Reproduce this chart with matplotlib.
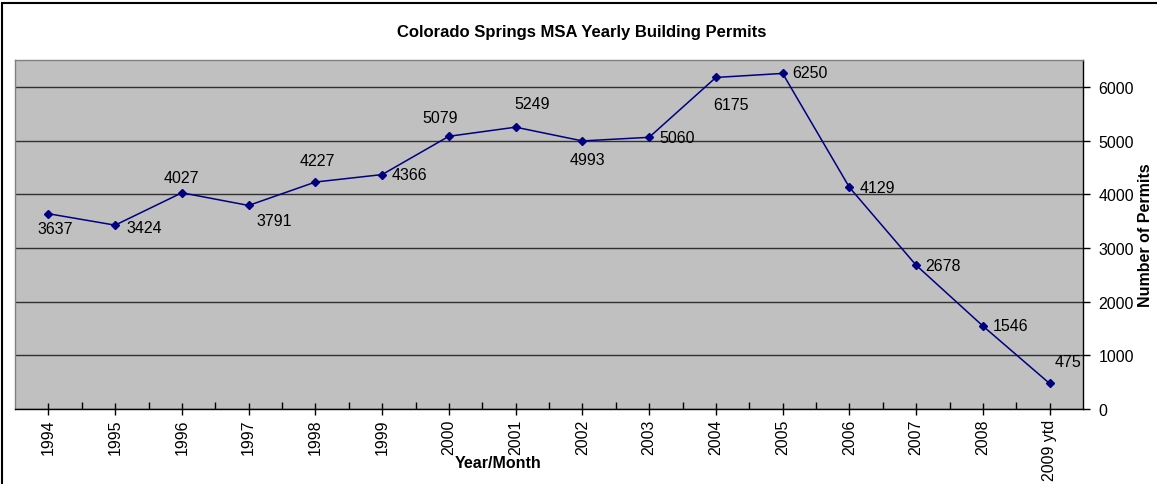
import numpy as np
import matplotlib.pyplot as plt
from matplotlib.patches import Rectangle

plt.rcParams['font.family'] = ['Liberation Sans', 'DejaVu Sans']

# donnees
annees = ['1994', '1995', '1996', '1997', '1998', '1999', '2000', '2001',
          '2002', '2003', '2004', '2005', '2006', '2007', '2008', '2009 ytd']
permis = [3637, 3424, 4027, 3791, 4227, 4366, 5079, 5249,
          4993, 5060, 6175, 6250, 4129, 2678, 1546, 475]

# decalage des etiquettes (pixels, vers le haut = positif)
decalages = [(6.5, -15), (28.8, -2.3), (-0.5, 15.7), (25.8, -15.3),
             (1.6, 21.4), (27.3, 0), (-9.2, 18.7), (16.8, 23.3),
             (5.3, -18.7), (27.8, 0), (14.7, -26.7), (27.5, 0.7),
             (27.5, 0), (27.3, 0), (27.5, 0), (18.3, 22.3)]

W, H = 1157, 485
fig = plt.figure(figsize=(W / 100, H / 100), dpi=100)
ax = fig.add_axes([15 / W, 1 - 410 / H, (1083 - 15) / W, (410 - 61) / H])
ax.set_facecolor('#C0C0C0')

x = np.arange(len(annees))
ax.plot(x, permis, color='#000080', linewidth=1.1, marker='D',
        markersize=4.5, zorder=3)

for xi, v, (dx, dy) in zip(x, permis, decalages):
    ax.annotate(str(v), (xi, v), xytext=(dx, dy), textcoords='offset pixels',
                ha='center', va='center', fontsize=11.5, color='black', zorder=4)

ax.set_xlim(-0.5, len(annees) - 0.5)
ax.set_ylim(0, 6500)

# axe des y a droite
ax.yaxis.tick_right()
ax.set_yticks(np.arange(0, 7000, 1000))
ax.tick_params(axis='y', direction='out', length=5, width=1, labelsize=11.5,
               pad=6, colors='black')
ax.grid(axis='y', color='#303030', linewidth=1)
ax.set_axisbelow(True)

ax.set_xticks(x)
ax.set_xticklabels(annees, rotation=90, fontsize=11.5)
ax.set_xticks(x[:-1] + 0.5, minor=True)
ax.tick_params(axis='x', which='major', direction='inout', length=8, width=1, pad=3)
ax.tick_params(axis='x', which='minor', direction='in', length=5, width=1)

ax.spines['left'].set_color('#808080')
ax.spines['top'].set_color('#808080')
ax.spines['bottom'].set_color('black')
ax.spines['right'].set_color('black')
for s in ax.spines.values():
    s.set_linewidth(1)

fig.text(582 / W, 1 - 33 / H, 'Colorado Springs MSA Yearly Building Permits',
         ha='center', va='center', fontsize=12, fontweight='bold')
fig.text(498 / W, 1 - 463 / H, 'Year/Month', ha='center', va='center',
         fontsize=11.5, fontweight='bold')
fig.text(1145 / W, 1 - 235 / H, 'Number of Permits', ha='center', va='center',
         rotation=90, fontsize=11.5, fontweight='bold')

# cadre du graphique
fig.patches.append(Rectangle((2 / W, -0.1), 1.2, 1 - 4 / H + 0.1,
                             transform=fig.transFigure, fill=False,
                             edgecolor='black', linewidth=1.5))

fig.savefig('out.png', dpi=100)
